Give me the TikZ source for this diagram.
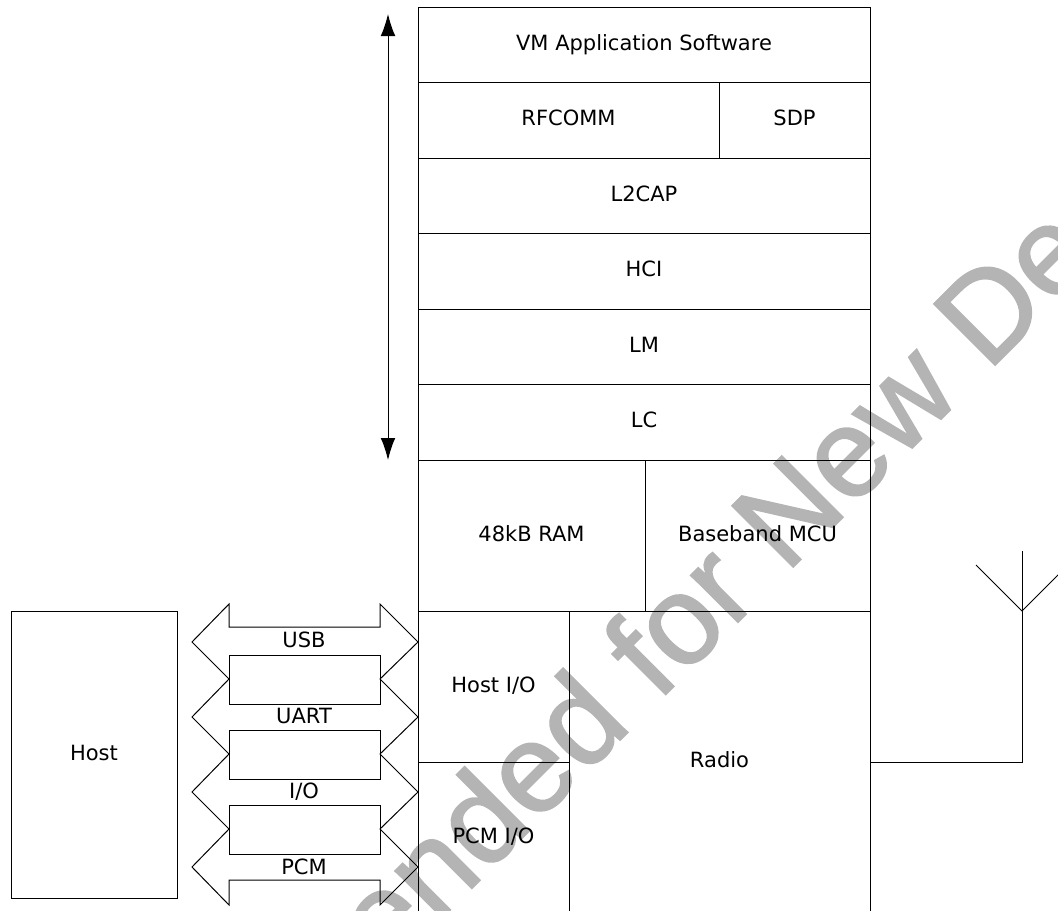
\documentclass[tikz,border=0pt]{standalone}
\usepackage{fontspec}
\setmainfont{DejaVu Sans}
\newfontfamily\wmfont[FakeBold=1.6]{Liberation Sans}
\usetikzlibrary{arrows.meta}
\definecolor{wmgray}{RGB}{180,180,180}
\newcommand\lblfont{\fontsize{15.75pt}{19pt}\selectfont}
\begin{document}
\begin{tikzpicture}[x=0.75pt,y=-0.75pt,line width=0.75pt,
  blk/.style 2 args={draw, inner sep=0pt, outer sep=0pt,
    minimum width=#1*0.75pt, minimum height=#2*0.75pt,
    font=\lblfont, text height=11.8pt, text depth=3.2pt},
  lbl/.style={font=\lblfont, inner sep=0pt, anchor=base}]
\useasboundingbox (0,0) rectangle (1058,911);
\clip (0,0) rectangle (1058,911);
% watermark
\node[font=\wmfont\fontsize{94pt}{100pt}\selectfont, text=wmgray, rotate=45,
  anchor=base, inner sep=0pt] (wm) at (567,793) {Not Recommended for New Design};
% stack
\node[blk={452}{75.5}] (vm) at (644,44.75) {VM Application Software};
\node[blk={301}{75.5}] (rfcomm) at (568.5,120.25) {RFCOMM};
\node[blk={151}{75.5}] (sdp) at (794.5,120.25) {SDP};
\node[blk={452}{75.5}] (l2cap) at (644,195.75) {L2CAP};
\node[blk={452}{75.5}] (hci) at (644,271.25) {HCI};
\node[blk={452}{75.5}] (lm) at (644,346.75) {LM};
\node[blk={452}{75.5}] (lc) at (644,422.25) {LC};
\node[blk={227}{151}] (ram) at (531.5,535.5) {48kB RAM};
\node[blk={225}{151}] (mcu) at (757.5,535.5) {Baseband MCU};
\node[blk={151}{151}] (hostio) at (493.5,686.5) {Host I/O};
\node[blk={151}{151}] (pcmio) at (493.5,837.5) {PCM I/O};
\node[blk={301}{302}] (radio) at (719.5,762) {Radio};
\node[blk={166}{287}] (host) at (94,754.5) {Host};
% vertical double arrow
\coordinate (atop) at (388,14);
\coordinate (abot) at (388,460);
\draw[{Latex[length=16.5pt,width=11pt]}-{Latex[length=16.5pt,width=11pt]}] (atop) -- (abot);
% bus arrows
\draw (229,627) -- (229,604) -- (192,642) -- (229,679) -- (192,717) -- (229,754)
  -- (192,792) -- (229,829) -- (192,867) -- (229,905) -- (229,880) -- (380,880)
  -- (380,905) -- (418,867) -- (380,829) -- (418,792) -- (380,754) -- (418,717)
  -- (380,679) -- (418,642) -- (380,604) -- (380,627) -- cycle;
\draw (229,655) rectangle (380,704);
\draw (229,730) rectangle (380,779);
\draw (229,805) rectangle (380,854);
\node[lbl] (usb) at (304,647) {USB};
\node[lbl] (uart) at (304,723) {UART};
\node[lbl] (io) at (304,798) {I/O};
\node[lbl] (pcm) at (304,874) {PCM};
% antenna
\coordinate (antfoot) at (1022,762);
\coordinate (antjoin) at (1022,611);
\coordinate (anttop) at (1022,551);
\coordinate (antl) at (976,565);
\coordinate (antr) at (1068,565);
\draw (radio.east |- antfoot) -- (antfoot) -- (anttop);
\draw (antl) -- (antjoin) -- (antr);
\end{tikzpicture}
\end{document}
